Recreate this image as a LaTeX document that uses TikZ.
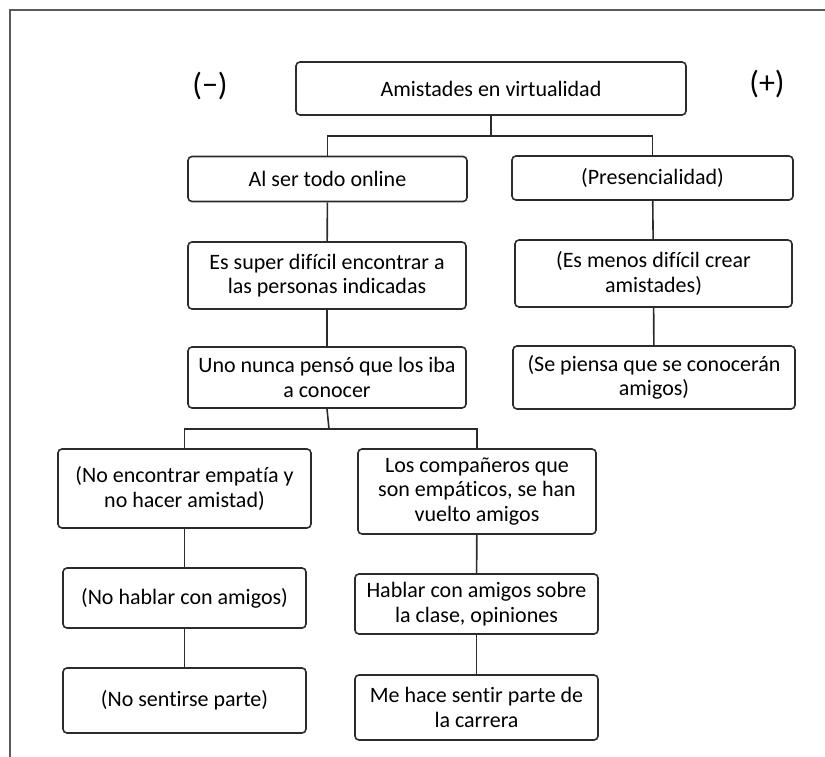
\documentclass[tikz,border=0pt]{standalone}
\usepackage{fontspec}
\setmainfont[Ligatures=NoCommon]{Carlito}
\usepackage{tikz}
\definecolor{linea}{HTML}{2B2B2B}
\definecolor{marco}{HTML}{5A5A5A}
\tikzset{
  caja/.style={draw=linea, line width=1.6pt, rounded corners=4pt, align=center,
    font=\fontsize{22}{24.5}\selectfont, inner sep=2pt, text=black},
  conector/.style={draw=linea, line width=1.6pt},
  signo/.style={font=\fontsize{32}{34}\selectfont, text=black},
}

\begin{document}
\begin{tikzpicture}[x=1pt, y=-1pt]
    \useasboundingbox (0,0) rectangle (825,757);
    % Marco
    \draw[marco, line width=1.2pt] (10,757) -- (10,10) -- (825,10);

    % Raiz
    \node[signo] (signoneg) at (210,86) {(−)};
    \node[signo] (signopos) at (767,84) {(+)};
    \node[caja, minimum width=390, minimum height=53] (raiz) at (491,88.5) {Amistades en virtualidad};

    % Lado negativo
    \node[caja, minimum width=279, minimum height=45] (online) at (327.5,179) {Al ser todo online};
    \node[caja, minimum width=278, minimum height=67] (dificil) at (327,275.5) {Es super difícil encontrar a\\las personas indicadas};
    \node[caja, minimum width=278, minimum height=61] (nunca) at (327,377.5) {Uno nunca pensó que los iba\\a conocer};
    \node[caja, minimum width=253, minimum height=79] (empatia) at (184.5,488.5) {(No encontrar empatía y\\no hacer amistad)};
    \node[caja, minimum width=243, minimum height=60] (nohablar) at (184.5,598) {(No hablar con amigos)};
    \node[caja, minimum width=243, minimum height=65] (nosentir) at (184.5,700.5) {(No sentirse parte)};
    \node[caja, minimum width=238, minimum height=85] (companeros) at (477,491.5) {Los compañeros que\\son empáticos, se han\\vuelto amigos};
    \node[caja, minimum width=243, minimum height=60] (hablar) at (476.5,604) {Hablar con amigos sobre\\la clase, opiniones};
    \node[caja, minimum width=243, minimum height=65] (sentir) at (476.5,707.5) {Me hace sentir parte de\\la carrera};

    % Lado positivo
    \node[caja, minimum width=281, minimum height=44] (presencial) at (652.5,178) {(Presencialidad)};
    \node[caja, minimum width=277, minimum height=67] (menos) at (653.5,273.5) {(Es menos difícil crear\\amistades)};
    \node[caja, minimum width=282, minimum height=63] (piensa) at (654,377.5) {(Se piensa que se conocerán\\amigos)};

    % Conectores
    \coordinate (rama1) at (491,136);
    \coordinate (rama2) at (329,429);
    \draw[conector, line width=2.2pt] (raiz.south) -- (rama1);
    \draw[conector] (online.north) |- (rama1) -| (presencial.north);
    \draw[conector] (online) -- (dificil);
    \draw[conector] (dificil) -- (nunca);
    \draw[conector] (presencial) -- (menos);
    \draw[conector] (menos) -- (piensa);
    \draw[conector] (nunca.south) -- (rama2);
    \draw[conector] (empatia.north) |- (rama2) -| (companeros.north);
    \draw[conector] (empatia) -- (nohablar);
    \draw[conector] (nohablar) -- (nosentir);
    \draw[conector] (companeros) -- (hablar);
    \draw[conector] (hablar) -- (sentir);

\end{tikzpicture}
\end{document}
